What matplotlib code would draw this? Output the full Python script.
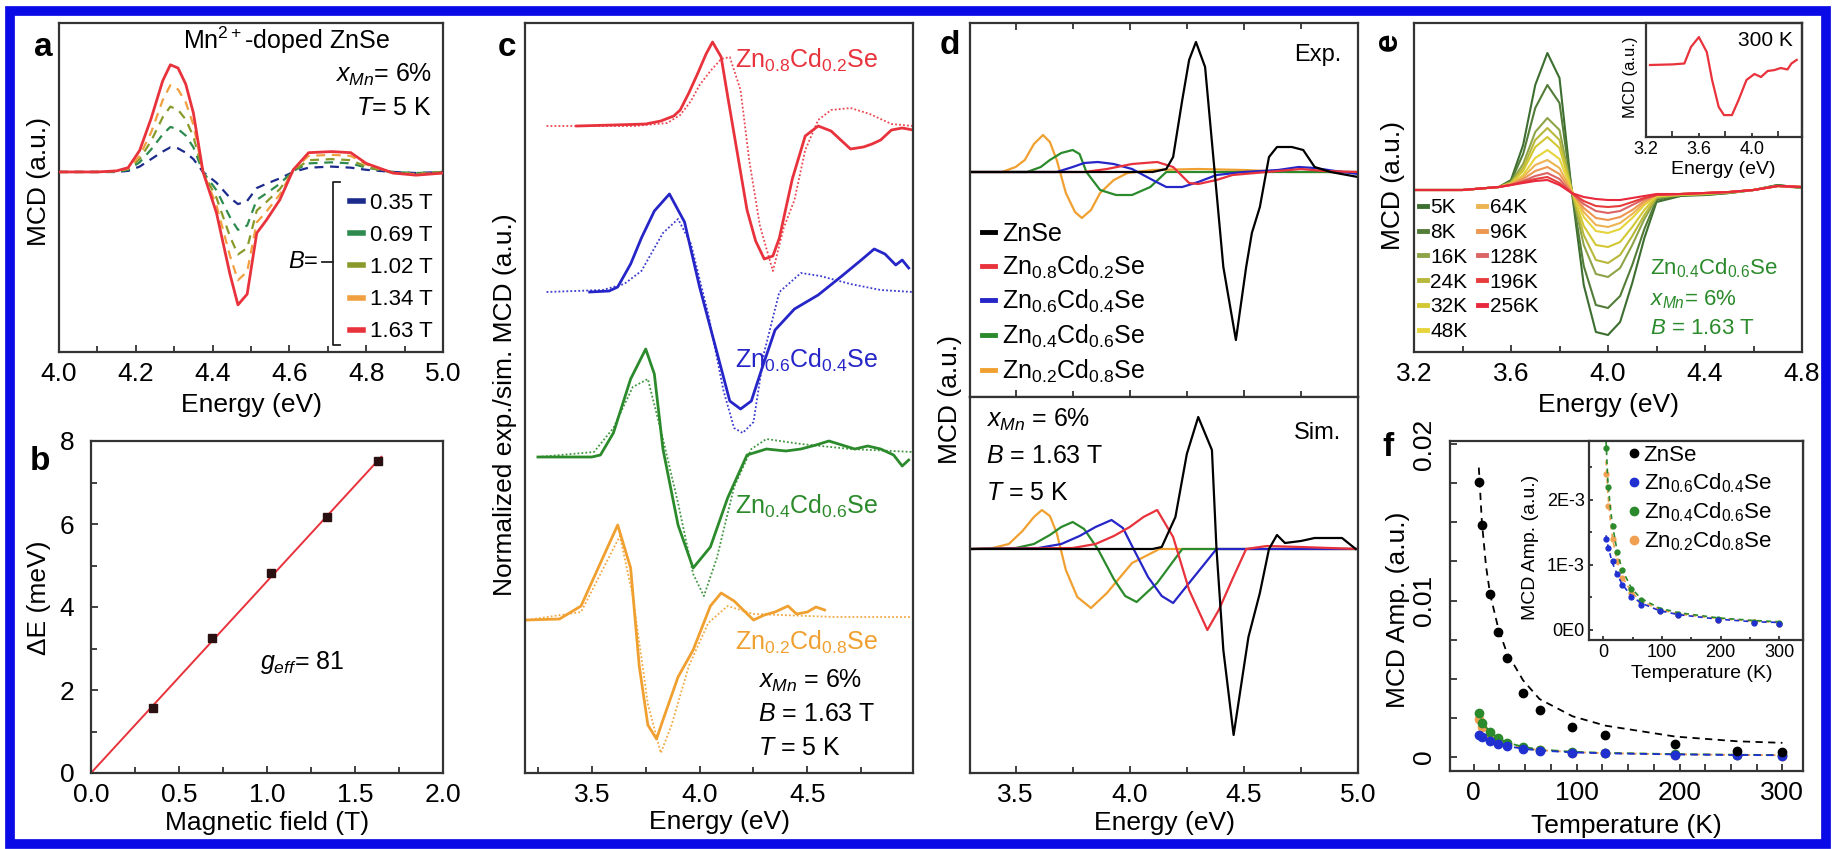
import matplotlib
matplotlib.use('Agg')
import matplotlib.pyplot as plt
from matplotlib.lines import Line2D
from matplotlib.patches import Rectangle
from matplotlib.ticker import MultipleLocator, FixedLocator, NullLocator

plt.rcParams['font.family'] = ['Liberation Sans', 'DejaVu Sans']
plt.rcParams['mathtext.fontset'] = 'custom'
plt.rcParams['mathtext.rm'] = 'Liberation Sans'
plt.rcParams['mathtext.it'] = 'Liberation Sans:italic'
plt.rcParams['mathtext.bf'] = 'Liberation Sans:bold'

# ---------------- data: panel a (MCD vs energy for several fields) ----------------
a_energy = [4.00, 4.10, 4.15, 4.18, 4.21, 4.24, 4.27, 4.29, 4.31, 4.33, 4.35, 4.375, 4.41, 4.445,
            4.466, 4.49, 4.515, 4.54, 4.575, 4.61, 4.65, 4.71, 4.76, 4.80, 4.87, 4.93, 5.00]
a_fields = ['0.35 T', '0.69 T', '1.02 T', '1.34 T', '1.63 T']
a_035 = [0, 0, 0.0, 0.01, 0.05, 0.12, 0.19, 0.23, 0.22, 0.18, 0.12, 0.0, -0.10, -0.24, -0.30, -0.27,
         -0.15, -0.11, -0.06, 0.0, 0.04, 0.05, 0.04, 0.02, 0.0, -0.01, 0]
a_069 = [0, 0, 0.0, 0.02, 0.09, 0.21, 0.35, 0.42, 0.40, 0.34, 0.23, 0.0, -0.17, -0.42, -0.54, -0.50,
         -0.26, -0.20, -0.11, 0.01, 0.08, 0.09, 0.08, 0.04, 0.0, -0.01, 0]
a_102 = [0, 0, 0.01, 0.03, 0.12, 0.29, 0.51, 0.61, 0.58, 0.49, 0.33, 0.0, -0.24, -0.60, -0.77, -0.71,
         -0.36, -0.28, -0.16, 0.01, 0.11, 0.12, 0.11, 0.05, -0.01, -0.02, 0]
a_134 = [0, 0, 0.01, 0.03, 0.15, 0.37, 0.67, 0.81, 0.77, 0.65, 0.44, 0.0, -0.31, -0.78, -1.01, -0.93,
         -0.47, -0.37, -0.21, 0.02, 0.15, 0.16, 0.15, 0.07, -0.01, -0.02, -0.01]
a_163 = [0, 0, 0.01, 0.04, 0.20, 0.50, 0.85, 1.00, 0.97, 0.82, 0.55, 0.0, -0.38, -0.95, -1.24, -1.14,
         -0.57, -0.45, -0.26, 0.02, 0.18, 0.19, 0.18, 0.08, -0.01, -0.03, -0.01]

# ---------------- panel b (Zeeman splitting) ----------------
b_field = [0.35, 0.69, 1.02, 1.34, 1.63]
b_dE = [1.57, 3.25, 4.82, 6.17, 7.52]
b_fit_field = [0.0, 1.65]
b_fit_dE = [0.0, 7.62]

# ---------------- panel c (normalized exp / sim MCD) ----------------
c_labels = ['Zn$_{0.8}$Cd$_{0.2}$Se', 'Zn$_{0.6}$Cd$_{0.4}$Se', 'Zn$_{0.4}$Cd$_{0.6}$Se', 'Zn$_{0.2}$Cd$_{0.8}$Se']
c_red_exp_E = [3.43, 3.60, 3.75, 3.82, 3.88, 3.91, 3.95, 3.99, 4.03, 4.06, 4.10, 4.13, 4.16, 4.22, 4.26,
               4.30, 4.34, 4.37, 4.43, 4.49, 4.55, 4.61, 4.66, 4.70, 4.76, 4.80, 4.84, 4.89, 4.94, 4.99]
c_red_exp = [0.0, 0.01, 0.02, 0.05, 0.10, 0.16, 0.33, 0.52, 0.72, 0.84, 0.69, 0.30, -0.08, -0.84, -1.15,
             -1.33, -1.30, -1.12, -0.53, -0.10, 0.0, -0.05, -0.15, -0.23, -0.21, -0.18, -0.14, -0.04, -0.02, -0.04]
c_red_sim_E = [3.29, 3.70, 3.85, 3.91, 3.96, 4.00, 4.05, 4.10, 4.14, 4.19, 4.23, 4.28, 4.34, 4.39, 4.44,
               4.49, 4.55, 4.61, 4.70, 4.79, 4.89, 4.99]
c_red_sim = [0.0, 0.0, 0.03, 0.11, 0.25, 0.41, 0.55, 0.67, 0.69, 0.36, -0.34, -1.00, -1.45, -1.02, -0.74,
             -0.24, 0.06, 0.16, 0.18, 0.12, 0.02, 0.0]
c_blue_exp_E = [3.49, 3.58, 3.62, 3.68, 3.73, 3.79, 3.86, 3.93, 4.00, 4.08, 4.14, 4.19, 4.24, 4.29, 4.35,
                4.44, 4.55, 4.66, 4.75, 4.81, 4.86, 4.91, 4.94, 4.97]
c_blue_exp = [0.0, 0.01, 0.05, 0.28, 0.54, 0.81, 0.98, 0.70, 0.05, -0.60, -1.09, -1.17, -1.09, -0.76, -0.38,
              -0.17, -0.03, 0.16, 0.32, 0.43, 0.38, 0.27, 0.32, 0.24]
c_blue_sim_E = [3.29, 3.55, 3.65, 3.73, 3.83, 3.90, 3.96, 4.04, 4.11, 4.16, 4.20, 4.25, 4.30, 4.37, 4.47,
                4.56, 4.70, 4.84, 4.99]
c_blue_sim = [0.0, 0.02, 0.08, 0.21, 0.59, 0.73, 0.48, -0.22, -0.98, -1.36, -1.41, -1.30, -0.60, 0.0, 0.19,
              0.16, 0.08, 0.02, 0.0]
c_green_exp_E = [3.25, 3.50, 3.54, 3.60, 3.68, 3.75, 3.79, 3.83, 3.90, 3.97, 4.05, 4.13, 4.22, 4.31, 4.40,
                 4.47, 4.54, 4.60, 4.66, 4.72, 4.78, 4.84, 4.90, 4.94, 4.97]
c_green_exp = [0.0, 0.0, 0.02, 0.24, 0.78, 1.08, 0.83, 0.08, -0.68, -1.11, -0.90, -0.41, 0.02, 0.08, 0.06,
               0.08, 0.12, 0.16, 0.12, 0.08, 0.11, 0.08, 0.02, -0.09, -0.03]
c_green_sim_E = [3.25, 3.51, 3.60, 3.69, 3.76, 3.83, 3.90, 3.97, 4.02, 4.08, 4.16, 4.24, 4.31, 4.47, 4.70, 4.99]
c_green_sim = [0.0, 0.05, 0.29, 0.70, 0.78, 0.18, -0.46, -1.17, -1.39, -1.01, -0.30, 0.08, 0.18, 0.13, 0.08, 0.05]
c_orange_exp_E = [3.20, 3.35, 3.45, 3.54, 3.62, 3.68, 3.72, 3.76, 3.80, 3.83, 3.90, 3.97, 4.05, 4.10, 4.16,
                  4.25, 4.30, 4.35, 4.41, 4.45, 4.50, 4.54, 4.58]
c_orange_exp = [0.0, 0.01, 0.14, 0.57, 0.95, 0.52, -0.46, -1.05, -1.19, -1.00, -0.57, -0.30, 0.14, 0.27, 0.19,
                0.0, 0.05, 0.08, 0.14, 0.06, 0.08, 0.13, 0.10]
c_orange_sim_E = [3.20, 3.45, 3.54, 3.63, 3.69, 3.76, 3.82, 3.87, 3.95, 4.04, 4.13, 4.25, 4.63, 4.99]
c_orange_sim = [0.0, 0.08, 0.46, 0.84, 0.24, -0.84, -1.33, -1.05, -0.46, -0.03, 0.14, 0.06, 0.03, 0.03]

# ---------------- panel d (exp. and sim. MCD) ----------------
d_labels = ['ZnSe', 'Zn$_{0.8}$Cd$_{0.2}$Se', 'Zn$_{0.6}$Cd$_{0.4}$Se', 'Zn$_{0.4}$Cd$_{0.6}$Se', 'Zn$_{0.2}$Cd$_{0.8}$Se']
d_black_exp_E = [3.30, 4.10, 4.16, 4.19, 4.23, 4.26, 4.29, 4.33, 4.37, 4.41, 4.465, 4.51, 4.535, 4.57, 4.61,
                 4.645, 4.71, 4.76, 4.81, 4.88, 5.00]
d_black_exp = [0, 0, 0.03, 0.15, 0.72, 1.12, 1.30, 1.05, 0.05, -0.95, -1.68, -0.95, -0.61, -0.35, 0.15,
               0.25, 0.25, 0.22, 0.05, 0.0, -0.05]
d_red_exp_E = [3.30, 3.80, 3.90, 4.01, 4.12, 4.19, 4.26, 4.30, 4.38, 4.45, 4.60, 4.75, 4.85, 5.00]
d_red_exp = [0, 0.0, 0.03, 0.08, 0.10, 0.05, -0.11, -0.12, -0.08, -0.03, 0.0, 0.03, 0.01, 0.0]
d_blue_exp_E = [3.30, 3.68, 3.75, 3.80, 3.86, 3.93, 4.01, 4.10, 4.16, 4.23, 4.30, 4.38, 4.50, 4.65, 4.74,
                4.81, 4.90, 5.00]
d_blue_exp = [0, 0.0, 0.05, 0.09, 0.10, 0.08, 0.03, -0.08, -0.15, -0.15, -0.10, -0.03, 0.0, 0.02, 0.05,
              0.04, 0.01, -0.02]
d_green_exp_E = [3.30, 3.55, 3.61, 3.65, 3.70, 3.75, 3.78, 3.81, 3.87, 3.94, 4.01, 4.09, 4.16, 4.40, 4.70, 5.00]
d_green_exp = [0, 0.0, 0.05, 0.12, 0.19, 0.22, 0.18, 0.0, -0.18, -0.23, -0.23, -0.15, 0.0, 0.0, 0.0, 0.0]
d_orange_exp_E = [3.30, 3.44, 3.50, 3.54, 3.58, 3.62, 3.65, 3.68, 3.72, 3.76, 3.79, 3.83, 3.87, 3.93, 3.99,
                  4.10, 4.30, 4.50, 4.70, 5.00]
d_orange_exp = [0, 0.0, 0.05, 0.12, 0.28, 0.37, 0.30, 0.12, -0.21, -0.40, -0.46, -0.38, -0.21, -0.08, -0.01,
                0.02, 0.03, 0.02, 0.0, 0.0]
d_black_sim_E = [3.30, 4.10, 4.14, 4.20, 4.25, 4.30, 4.36, 4.38, 4.41, 4.455, 4.50, 4.52, 4.57, 4.61, 4.645,
                 4.68, 4.75, 4.81, 4.93, 4.99]
d_black_sim = [0, 0, 0.02, 0.32, 0.95, 1.32, 0.99, 0.0, -1.01, -1.86, -1.18, -0.88, -0.44, 0.0, 0.14,
               0.06, 0.08, 0.11, 0.11, 0.0]
d_red_sim_E = [3.30, 3.75, 3.85, 3.93, 4.00, 4.06, 4.12, 4.19, 4.26, 4.34, 4.39, 4.45, 4.51, 4.60, 4.75, 5.00]
d_red_sim = [0, 0.01, 0.05, 0.13, 0.22, 0.32, 0.39, 0.12, -0.41, -0.81, -0.61, -0.30, 0.0, 0.03, 0.02, 0.0]
d_blue_sim_E = [3.30, 3.60, 3.70, 3.78, 3.85, 3.92, 3.97, 4.01, 4.08, 4.14, 4.19, 4.26, 4.38, 5.00]
d_blue_sim = [0, 0.01, 0.05, 0.13, 0.22, 0.29, 0.21, 0.03, -0.28, -0.47, -0.54, -0.34, 0.0, 0.0]
d_green_sim_E = [3.30, 3.50, 3.58, 3.65, 3.70, 3.75, 3.80, 3.86, 3.93, 3.98, 4.03, 4.12, 4.23, 5.00]
d_green_sim = [0, 0.01, 0.05, 0.14, 0.22, 0.27, 0.20, 0.0, -0.30, -0.47, -0.53, -0.34, 0.0, 0.0]
d_orange_sim_E = [3.30, 3.40, 3.47, 3.53, 3.58, 3.615, 3.65, 3.68, 3.72, 3.77, 3.83, 3.90, 4.01, 4.13, 5.00]
d_orange_sim = [0, 0.01, 0.05, 0.18, 0.32, 0.39, 0.33, 0.16, -0.21, -0.48, -0.59, -0.44, -0.14, 0.0, 0.0]

# ---------------- panel e (temperature dependence) ----------------
e_energy = [3.20, 3.40, 3.55, 3.60, 3.65, 3.70, 3.75, 3.80, 3.85, 3.90, 3.95, 4.00, 4.05, 4.10, 4.15, 4.20,
            4.30, 4.40, 4.50, 4.60, 4.70, 4.80]
e_temps = ['5K', '8K', '16K', '24K', '32K', '48K', '64K', '96K', '128K', '196K', '256K']
e_5K = [0, 0, 0.03, 0.10, 0.45, 1.05, 1.37, 1.12, 0.00, -0.95, -1.42, -1.45, -1.32, -0.93, -0.48, -0.12, -0.06, -0.05, -0.03, 0.00, 0.05, 0.02]
e_8K = [0, 0, 0.03, 0.09, 0.36, 0.82, 1.05, 0.87, 0.00, -0.76, -1.15, -1.18, -1.06, -0.75, -0.39, -0.10, -0.05, -0.05, -0.03, 0.00, 0.05, 0.02]
e_16K = [0, 0, 0.03, 0.08, 0.26, 0.58, 0.72, 0.60, 0.00, -0.55, -0.84, -0.87, -0.78, -0.55, -0.29, -0.08, -0.05, -0.04, -0.03, 0.00, 0.04, 0.02]
e_24K = [0, 0, 0.03, 0.07, 0.22, 0.50, 0.62, 0.50, 0.00, -0.45, -0.70, -0.73, -0.65, -0.46, -0.25, -0.07, -0.05, -0.04, -0.02, 0.00, 0.04, 0.03]
e_32K = [0, 0, 0.03, 0.07, 0.19, 0.43, 0.53, 0.42, 0.00, -0.36, -0.55, -0.57, -0.52, -0.37, -0.20, -0.06, -0.05, -0.04, -0.02, 0.00, 0.04, 0.03]
e_48K = [0, 0, 0.03, 0.06, 0.15, 0.32, 0.40, 0.31, 0.00, -0.27, -0.41, -0.43, -0.39, -0.28, -0.15, -0.06, -0.04, -0.03, -0.02, 0.00, 0.04, 0.03]
e_64K = [0, 0, 0.03, 0.06, 0.13, 0.25, 0.30, 0.22, -0.01, -0.22, -0.35, -0.37, -0.33, -0.24, -0.13, -0.05, -0.04, -0.03, -0.02, 0.00, 0.04, 0.03]
e_96K = [0, 0, 0.03, 0.06, 0.11, 0.19, 0.23, 0.16, -0.02, -0.18, -0.28, -0.30, -0.27, -0.20, -0.11, -0.05, -0.04, -0.03, -0.02, 0.00, 0.04, 0.03]
e_128K = [0, 0, 0.03, 0.05, 0.09, 0.14, 0.17, 0.11, -0.03, -0.14, -0.21, -0.23, -0.21, -0.15, -0.09, -0.05, -0.04, -0.03, -0.02, 0.00, 0.04, 0.03]
e_196K = [0, 0, 0.03, 0.05, 0.08, 0.11, 0.13, 0.07, -0.03, -0.11, -0.16, -0.17, -0.16, -0.12, -0.08, -0.05, -0.04, -0.03, -0.02, 0.00, 0.04, 0.03]
e_256K = [0, 0, 0.03, 0.05, 0.07, 0.09, 0.10, 0.05, -0.03, -0.07, -0.09, -0.10, -0.10, -0.08, -0.06, -0.04, -0.04, -0.03, -0.02, 0.00, 0.04, 0.03]
e_300K_E = [3.23, 3.40, 3.49, 3.54, 3.60, 3.66, 3.70, 3.75, 3.79, 3.85, 3.90, 3.96, 4.02, 4.07, 4.12, 4.17,
            4.22, 4.27, 4.30, 4.34]
e_300K = [0.0, 0.02, 0.05, 0.60, 0.93, 0.43, -0.50, -1.40, -1.67, -1.67, -1.17, -0.50, -0.30, -0.40, -0.20,
          -0.17, -0.10, -0.15, 0.05, 0.17]

# ---------------- panel f (MCD amplitude vs temperature) ----------------
f_labels = ['ZnSe', 'Zn$_{0.6}$Cd$_{0.4}$Se', 'Zn$_{0.4}$Cd$_{0.6}$Se', 'Zn$_{0.2}$Cd$_{0.8}$Se']
f_T = [5, 8, 16, 24, 32, 48, 64, 96, 128, 196, 256, 300]
f_znse = [0.0176, 0.0148, 0.0104, 0.0080, 0.0063, 0.0041, 0.0030, 0.0019, 0.0014, 0.0008, 0.0004, 0.0003]
f_zn06 = [0.00140, 0.00125, 0.00105, 0.00085, 0.00068, 0.00050, 0.00038, 0.00028, 0.00022, 0.00015, 0.00010, 0.00008]
f_zn04 = [0.00280, 0.00220, 0.00160, 0.00120, 0.00092, 0.00062, 0.00045, 0.00030, 0.00024, 0.00016, 0.00012, 0.00010]
f_zn02 = [0.00240, 0.00190, 0.00140, 0.00105, 0.00080, 0.00056, 0.00042, 0.00028, 0.00022, 0.00015, 0.00011, 0.00009]
f_fit_T = [5, 8, 12, 16, 24, 32, 48, 64, 96, 128, 196, 256, 300]
f_fit_znse = [0.0185, 0.0150, 0.0122, 0.0104, 0.0082, 0.0067, 0.0049, 0.0037, 0.0026, 0.0020, 0.0013, 0.0010, 0.0009]
f_fit_zn06 = [0.00145, 0.00130, 0.00115, 0.00102, 0.00085, 0.00070, 0.00052, 0.00041, 0.00029, 0.00023, 0.00016, 0.00012, 0.00011]
f_fit_zn04 = [0.0029, 0.0023, 0.0019, 0.0016, 0.0012, 0.00093, 0.00064, 0.00048, 0.00033, 0.00026, 0.00018, 0.00014, 0.00012]
f_fit_zn02 = [0.0026, 0.0021, 0.0017, 0.0014, 0.00105, 0.00082, 0.00058, 0.00044, 0.00031, 0.00024, 0.00017, 0.00013, 0.00011]

# ======================= drawing =======================
W, H = 1835, 849
fig = plt.figure(figsize=(W / 100, H / 100), dpi=100)
fig.patch.set_facecolor('white')

RED, BLUE, GREEN, ORANGE = '#e8323c', '#2525c8', '#2b8a2b', '#f0a030'
SP = '#333333'
FS = 19
fmt1 = matplotlib.ticker.FormatStrFormatter('%.1f')


def add_ax(l, t, r, b):
    ax = fig.add_axes([l / W, 1 - b / H, (r - l) / W, (b - t) / H])
    for s in ax.spines.values():
        s.set_linewidth(1.6)
        s.set_color(SP)
    ax.tick_params(which='both', direction='in', labelsize=FS, color=SP, width=1.3, pad=7)
    ax.tick_params(which='major', length=5)
    ax.tick_params(which='minor', length=4)
    return ax


def ftext(x, y, s, **kw):
    kw.setdefault('fontsize', FS)
    fig.text(x / W, 1 - y / H, s, **kw)


def fline(xs, ys, **kw):
    fig.add_artist(Line2D([x / W for x in xs], [1 - y / H for y in ys], transform=fig.transFigure, **kw))


def legend_at(ax, handles, labels, x, y, **kw):
    base = dict(loc='upper left', bbox_to_anchor=(x / W, 1 - y / H), bbox_transform=fig.transFigure,
                frameon=False, borderpad=0, borderaxespad=0)
    base.update(kw)
    return ax.legend(handles, labels, **base)


# ---- panel a ----
ax = add_ax(59, 23, 443, 352)
a_series = [a_035, a_069, a_102, a_134, a_163]
a_cols = ['#1c2a8c', '#2e8b50', '#8a9a2a', '#f0a040', RED]
for vals, col, lab in zip(a_series, a_cols, a_fields):
    if lab == '1.63 T':
        ax.plot(a_energy, vals, color=col, lw=2.0, zorder=5)
    else:
        ax.plot(a_energy, vals, color=col, lw=1.6, ls=(0, (4, 3)))
ax.set_xlim(4.0, 5.0)
ax.set_ylim(-1.68, 1.39)
ax.xaxis.set_major_locator(MultipleLocator(0.2))
ax.xaxis.set_minor_locator(MultipleLocator(0.1))
ax.yaxis.set_major_locator(NullLocator())
ax.xaxis.set_major_formatter(fmt1)
hs = [Line2D([], [], color=c, lw=4) for c in a_cols]
legend_at(ax, hs, a_fields, 350, 193, fontsize=16, handlelength=0.6, handletextpad=0.3, labelspacing=0.5)
fline([340, 333, 333, 340], [182, 182, 345, 345], color='#222222', lw=1.3)
fline([322, 333], [262, 262], color='#222222', lw=1.3)
ftext(318, 262, '$B$=', ha='right', va='center', fontsize=17)
ftext(43, 48, 'a', fontweight='bold', fontsize=24, ha='center', va='center')
ftext(183, 40, 'Mn$^{2+}$-doped ZnSe', ha='left', va='center', fontsize=18)
ftext(432, 75, '$x_{Mn}$= 6%', ha='right', va='center', fontsize=18)
ftext(432, 108, '$T$= 5 K', ha='right', va='center', fontsize=18)
ftext(39, 182, 'MCD (a.u.)', rotation=90, ha='center', va='center')
ftext(251, 405, 'Energy (eV)', ha='center', va='center')

# ---- panel b ----
ax = add_ax(91, 441, 443, 773)
ax.plot(b_fit_field, b_fit_dE, color=RED, lw=1.4)
ax.plot(b_field, b_dE, ls='none', marker='s', ms=6, color='#2a1010')
ax.set_xlim(0, 2.0)
ax.set_ylim(0, 8)
ax.xaxis.set_major_locator(MultipleLocator(0.5))
ax.xaxis.set_minor_locator(MultipleLocator(0.25))
ax.yaxis.set_major_locator(MultipleLocator(2))
ax.yaxis.set_minor_locator(MultipleLocator(1))
ax.xaxis.set_major_formatter(fmt1)
ax.tick_params(axis='y', pad=12)
ftext(40, 462, 'b', fontweight='bold', fontsize=24, ha='center', va='center')
ftext(260, 663, '$g_{eff}$= 81', ha='left', va='center', fontsize=18)
ftext(39, 598, '\u0394E (meV)', rotation=90, ha='center', va='center')
ftext(267, 823, 'Magnetic field (T)', ha='center', va='center')

# ---- panel c ----
ax = add_ax(525, 23, 913, 773)
c_offsets = [6.47, 4.81, 3.16, 1.53]
c_sets = [(c_red_exp_E, c_red_exp, c_red_sim_E, c_red_sim, RED),
          (c_blue_exp_E, c_blue_exp, c_blue_sim_E, c_blue_sim, BLUE),
          (c_green_exp_E, c_green_exp, c_green_sim_E, c_green_sim, GREEN),
          (c_orange_exp_E, c_orange_exp, c_orange_sim_E, c_orange_sim, ORANGE)]
for (ee, ev, se, sv, col), off in zip(c_sets, c_offsets):
    ax.plot(se, [v + off for v in sv], color=col, lw=1.3, ls=(0, (1, 1.2)), alpha=0.9)
    ax.plot(ee, [v + off for v in ev], color=col, lw=2.0)
ax.set_xlim(3.19, 4.99)
ax.set_ylim(0, 7.5)
ax.xaxis.set_major_locator(MultipleLocator(0.5))
ax.xaxis.set_minor_locator(MultipleLocator(0.25))
ax.yaxis.set_major_locator(NullLocator())
ax.xaxis.set_major_formatter(fmt1)
ftext(507, 48, 'c', fontweight='bold', fontsize=24, ha='center', va='center')
for lab, col, y in zip(c_labels, [RED, BLUE, GREEN, ORANGE], [60, 360, 506, 642]):
    ftext(735, y, lab, color=col, ha='left', va='center', fontsize=18)
ftext(758, 681, '$x_{Mn}$ = 6%', ha='left', va='center', fontsize=18)
ftext(758, 714, '$B$ = 1.63 T', ha='left', va='center', fontsize=18)
ftext(758, 748, '$T$ = 5 K', ha='left', va='center', fontsize=18)
ftext(505, 405, 'Normalized exp./sim. MCD (a.u.)', rotation=90, ha='center', va='center')
ftext(719, 822, 'Energy (eV)', ha='center', va='center')

# ---- panel d ----
d_cols = ['black', RED, BLUE, GREEN, ORANGE]
axt = add_ax(970, 23, 1358, 397)
exp_sets = [(d_black_exp_E, d_black_exp), (d_red_exp_E, d_red_exp), (d_blue_exp_E, d_blue_exp),
            (d_green_exp_E, d_green_exp), (d_orange_exp_E, d_orange_exp)]
order = [4, 3, 2, 1, 0]
for i in order:
    e_, v_ = exp_sets[i]
    axt.plot(e_, v_, color=d_cols[i], lw=1.6)
axt.set_xlim(3.3, 5.0)
axt.set_ylim(-2.25, 1.49)
axt.xaxis.set_major_locator(MultipleLocator(0.5))
axt.xaxis.set_minor_locator(MultipleLocator(0.25))
axt.yaxis.set_major_locator(NullLocator())
axt.tick_params(axis='x', which='both', top=True, bottom=True, labelbottom=False)
hs = [Line2D([], [], color=c, lw=3.5) for c in d_cols]
legend_at(axt, hs, d_labels, 982, 222, fontsize=18, handlelength=0.5, handletextpad=0.3, labelspacing=0.3)
axb = add_ax(970, 397, 1358, 773)
sim_sets = [(d_black_sim_E, d_black_sim), (d_red_sim_E, d_red_sim), (d_blue_sim_E, d_blue_sim),
            (d_green_sim_E, d_green_sim), (d_orange_sim_E, d_orange_sim)]
for i in order:
    e_, v_ = sim_sets[i]
    axb.plot(e_, v_, color=d_cols[i], lw=1.6)
axb.set_xlim(3.3, 5.0)
axb.set_ylim(-2.24, 1.52)
axb.xaxis.set_major_locator(MultipleLocator(0.5))
axb.xaxis.set_minor_locator(MultipleLocator(0.25))
axb.yaxis.set_major_locator(NullLocator())
axb.xaxis.set_major_formatter(fmt1)
ftext(950, 45, 'd', fontweight='bold', fontsize=24, ha='center', va='center')
ftext(1318, 55, 'Exp.', ha='center', va='center', fontsize=17)
ftext(1318, 433, 'Sim.', ha='center', va='center', fontsize=17)
ftext(986, 420, '$x_{Mn}$ = 6%', ha='left', va='center', fontsize=18)
ftext(986, 456, '$B$ = 1.63 T', ha='left', va='center', fontsize=18)
ftext(986, 493, '$T$ = 5 K', ha='left', va='center', fontsize=18)
ftext(950, 400, 'MCD (a.u.)', rotation=90, ha='center', va='center')
ftext(1164, 823, 'Energy (eV)', ha='center', va='center')

# ---- panel e ----
ax = add_ax(1414, 23, 1802, 352)
e_series = [e_5K, e_8K, e_16K, e_24K, e_32K, e_48K, e_64K, e_96K, e_128K, e_196K, e_256K]
e_cols = ['#3c6e30', '#527c38', '#8ea448', '#b8b83c', '#d2c834', '#e6d43c', '#ecb452', '#ec9650',
          '#dc6464', '#e63c3c', '#e8283c']
for vals, col in zip(e_series, e_cols):
    ax.plot(e_energy, vals, color=col, lw=1.5)
ax.set_xlim(3.2, 4.8)
ax.set_ylim(-1.62, 1.67)
ax.xaxis.set_major_locator(MultipleLocator(0.4))
ax.xaxis.set_minor_locator(MultipleLocator(0.2))
ax.yaxis.set_major_locator(NullLocator())
ax.xaxis.set_major_formatter(fmt1)
hs = [Line2D([], [], color=c, lw=3.5) for c in e_cols]
legend_at(ax, hs, e_temps, 1419, 198, ncol=2, fontsize=15, handlelength=0.4, handletextpad=0.15,
          labelspacing=0.28, columnspacing=0.5)
ftext(1650, 268, 'Zn$_{0.4}$Cd$_{0.6}$Se', color=GREEN, ha='left', va='center', fontsize=16)
ftext(1650, 300, '$x_{Mn}$= 6%', color=GREEN, ha='left', va='center', fontsize=16)
ftext(1650, 329, '$B$ = 1.63 T', color=GREEN, ha='left', va='center', fontsize=16)
ftext(1388, 42, 'e', fontweight='bold', fontsize=24, ha='center', va='center', rotation=90)
ftext(1393, 185, 'MCD (a.u.)', rotation=90, ha='center', va='center')
ftext(1608, 405, 'Energy (eV)', ha='center', va='center')
# inset
axi = add_ax(1646, 23, 1802, 137)
axi.plot(e_300K_E, e_300K, color=RED, lw=1.6)
axi.set_xlim(3.2, 4.38)
axi.set_ylim(-2.4, 1.4)
axi.xaxis.set_major_locator(MultipleLocator(0.4))
axi.xaxis.set_minor_locator(MultipleLocator(0.2))
axi.yaxis.set_major_locator(NullLocator())
axi.xaxis.set_major_formatter(fmt1)
axi.tick_params(labelsize=13, pad=3, length=3)
axi.patch.set_alpha(0)
ftext(1793, 40, '300 K', ha='right', va='center', fontsize=15)
ftext(1630, 77, 'MCD (a.u.)', rotation=90, ha='center', va='center', fontsize=12)
ftext(1723, 170, 'Energy (eV)', ha='center', va='center', fontsize=14)

# ---- panel f ----
ax = add_ax(1450, 441, 1803, 771)
f_cols = ['black', '#2030d0', GREEN, '#f0a050']
pts = [f_znse, f_zn06, f_zn04, f_zn02]
fits = [f_fit_znse, f_fit_zn06, f_fit_zn04, f_fit_zn02]
for i in [3, 2, 1, 0]:
    ax.plot(f_fit_T, fits[i], color=f_cols[i], lw=1.3, ls=(0, (4, 3)))
    ax.plot(f_T, pts[i], ls='none', marker='o', ms=6, color=f_cols[i])
ax.set_xlim(-23, 320)
ax.set_ylim(-0.0009, 0.0202)
ax.xaxis.set_major_locator(MultipleLocator(100))
ax.xaxis.set_minor_locator(MultipleLocator(25))
ax.yaxis.set_major_locator(FixedLocator([0, 0.01, 0.02]))
ax.yaxis.set_minor_locator(MultipleLocator(0.0025))
ax.yaxis.set_major_formatter(matplotlib.ticker.FuncFormatter(lambda v, p: '0' if abs(v) < 1e-9 else '%.2f' % v))
ax.tick_params(which='minor', length=5)
ax.tick_params(axis='y', pad=10)
for lab in ax.get_yticklabels():
    lab.set_rotation(90)
    lab.set_va('center')
ftext(1388, 448, 'f', fontweight='bold', fontsize=24, ha='center', va='center')
ftext(1398, 610, 'MCD Amp. (a.u.)', rotation=90, ha='center', va='center')
ftext(1626, 826, 'Temperature (K)', ha='center', va='center')
# inset
axf = add_ax(1589, 441, 1803, 640)
for i in [3, 2, 1]:
    axf.plot(f_fit_T, fits[i], color=f_cols[i], lw=1.2, ls=(0, (3, 2.5)))
    axf.plot(f_T, pts[i], ls='none', marker='o', ms=3.5, color=f_cols[i])
axf.set_xlim(-24, 340)
axf.set_ylim(-0.00016, 0.0029)
axf.xaxis.set_major_locator(MultipleLocator(100))
axf.xaxis.set_minor_locator(MultipleLocator(50))
axf.yaxis.set_major_locator(FixedLocator([0, 0.001, 0.002]))
axf.yaxis.set_minor_locator(MultipleLocator(0.0005))
axf.yaxis.set_major_formatter(matplotlib.ticker.FuncFormatter(lambda v, p: {0: '0E0', 1: '1E-3', 2: '2E-3'}[int(round(v * 1000))]))
axf.tick_params(labelsize=13, pad=3, length=3)
axf.tick_params(which='minor', length=2)
ftext(1530, 547, 'MCD Amp. (a.u.)', rotation=90, ha='center', va='center', fontsize=14)
ftext(1702, 673, 'Temperature (K)', ha='center', va='center', fontsize=14)
hs = [Line2D([], [], ls='none', marker='o', ms=6, color=c) for c in f_cols]
legend_at(axf, hs, f_labels, 1628, 445, fontsize=16, handlelength=0.5, handletextpad=0.2, labelspacing=0.25)

# ---- blue frame ----
fig.add_artist(Rectangle((10 / W, 1 - 844 / H), (1826 - 10) / W, (844 - 11) / H, transform=fig.transFigure,
                         fill=False, edgecolor='#0a0ae6', lw=7))

fig.savefig('out.png', dpi=100, facecolor='white')
